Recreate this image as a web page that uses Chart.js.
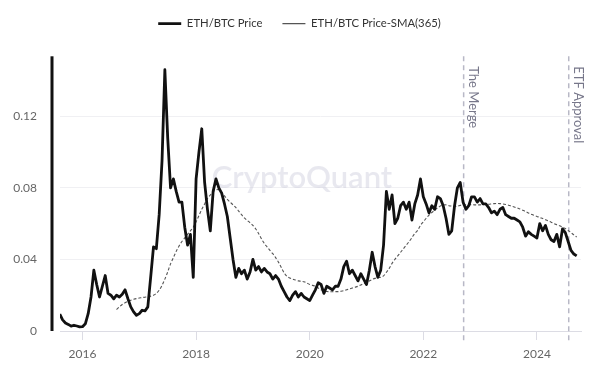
<!DOCTYPE html>
<html lang="en">

<head>
  <meta charset="UTF-8">
  <title>ETH/BTC Price</title>
  <script src="https://cdn.jsdelivr.net/npm/chart.js"></script>
  <style>
    html, body { margin: 0; padding: 0; background: #fff; }
    #wrap { width: 594px; height: 373px; position: relative; }
  </style>
</head>

<body>
  <div id="wrap"><canvas id="ethBtcChart"></canvas></div>

  <script>
    // one reading every 0.05 year (about every 18 days)
    var priceStart = 2015.60;
    var smaStart = 2016.60;
    var stepYears = 0.05;

    // ETH/BTC price
    var price = [
      0.0095, 0.0062, 0.0045, 0.0037, 0.0027, 0.0032, 0.0028, 0.0023,
      0.0024, 0.0040, 0.0097, 0.0190, 0.0340, 0.0260, 0.0190, 0.0250, 0.0310, 0.0210,
      0.0200, 0.0180, 0.0200, 0.0190, 0.0205, 0.0230, 0.0180, 0.0135, 0.0107, 0.0088,
      0.0097, 0.0116, 0.0112, 0.0135, 0.0300, 0.0470, 0.0460, 0.0650, 0.0950, 0.1460,
      0.1080, 0.0800, 0.0850, 0.0780, 0.0720, 0.0720, 0.0580, 0.0480, 0.0540, 0.0300,
      0.0850, 0.1000, 0.1130, 0.0830, 0.0680, 0.0560, 0.0780, 0.0850, 0.0800, 0.0770,
      0.0710, 0.0640, 0.0520, 0.0400, 0.0300, 0.0350, 0.0320, 0.0340, 0.0290, 0.0330,
      0.0400, 0.0340, 0.0360, 0.0330, 0.0350, 0.0330, 0.0320, 0.0290, 0.0310, 0.0290,
      0.0250, 0.0220, 0.0190, 0.0170, 0.0200, 0.0220, 0.0190, 0.0210, 0.0190, 0.0180,
      0.0170, 0.0200, 0.0230, 0.0270, 0.0260, 0.0210, 0.0250, 0.0240, 0.0230, 0.0250,
      0.0250, 0.0290, 0.0360, 0.0390, 0.0320, 0.0340, 0.0310, 0.0280, 0.0320, 0.0290,
      0.0260, 0.0340, 0.0440, 0.0360, 0.0300, 0.0340, 0.0480, 0.0780, 0.0680, 0.0760,
      0.0600, 0.0630, 0.0700, 0.0720, 0.0680, 0.0720, 0.0620, 0.0710, 0.0760, 0.0850,
      0.0750, 0.0710, 0.0660, 0.0700, 0.0680, 0.0750, 0.0740, 0.0700, 0.0630, 0.0540,
      0.0560, 0.0700, 0.0800, 0.0830, 0.0720, 0.0680, 0.0700, 0.0750, 0.0750, 0.0720,
      0.0740, 0.0710, 0.0710, 0.0690, 0.0660, 0.0670, 0.0650, 0.0680, 0.0690, 0.0650,
      0.0640, 0.0630, 0.0630, 0.0620, 0.0610, 0.0580, 0.0530, 0.0555, 0.0540, 0.0530,
      0.0520, 0.0600, 0.0560, 0.0590, 0.0540, 0.0510, 0.0500, 0.0540, 0.0470, 0.0570,
      0.0550, 0.0500, 0.0450, 0.0430, 0.0420
    ];

    // 365-day moving average
    var sma = [
      0.0120, 0.0135, 0.0148, 0.0158, 0.0166, 0.0172, 0.0177, 0.0181,
      0.0184, 0.0187, 0.0189, 0.0191, 0.0195, 0.0200, 0.0210, 0.0228, 0.0255, 0.0290,
      0.0330, 0.0375, 0.0410, 0.0445, 0.0475, 0.0500, 0.0520, 0.0540, 0.0560, 0.0580,
      0.0610, 0.0645, 0.0680, 0.0710, 0.0740, 0.0760, 0.0778, 0.0788, 0.0790, 0.0775,
      0.0755, 0.0735, 0.0720, 0.0705, 0.0690, 0.0670, 0.0650, 0.0632, 0.0618, 0.0605,
      0.0590, 0.0570, 0.0545, 0.0515, 0.0490, 0.0470, 0.0450, 0.0432, 0.0410, 0.0385,
      0.0355, 0.0325, 0.0305, 0.0296, 0.0290, 0.0285, 0.0280, 0.0278, 0.0275, 0.0268,
      0.0260, 0.0255, 0.0250, 0.0240, 0.0230, 0.0225, 0.0221, 0.0220, 0.0219, 0.0220,
      0.0220, 0.0222, 0.0225, 0.0230, 0.0235, 0.0240, 0.0245, 0.0250, 0.0257, 0.0265,
      0.0272, 0.0280, 0.0288, 0.0294, 0.0298, 0.0300, 0.0308, 0.0328, 0.0350, 0.0378,
      0.0400, 0.0420, 0.0440, 0.0460, 0.0480, 0.0500, 0.0522, 0.0545, 0.0562, 0.0590,
      0.0610, 0.0630, 0.0648, 0.0662, 0.0675, 0.0688, 0.0698, 0.0704, 0.0705, 0.0700,
      0.0698, 0.0696, 0.0698, 0.0702, 0.0705, 0.0705, 0.0706, 0.0706, 0.0705, 0.0705,
      0.0705, 0.0706, 0.0707, 0.0708, 0.0710, 0.0712, 0.0713, 0.0712, 0.0710, 0.0707,
      0.0703, 0.0698, 0.0693, 0.0688, 0.0682, 0.0675, 0.0668, 0.0660, 0.0653, 0.0646,
      0.0640, 0.0635, 0.0628, 0.0622, 0.0615, 0.0608, 0.0600, 0.0594, 0.0588, 0.0580,
      0.0573, 0.0562, 0.0550, 0.0537, 0.0525
    ];

    var yearTicks = [2016, 2018, 2020, 2022, 2024];
    var valueTicks = [0, 0.04, 0.08, 0.12];

    var eventLabels = ['The Merge', 'ETF Approval'];
    var eventYears = [2022.71, 2024.56];

    var font = { family: 'Lato', size: 12 };

    function toPoints(values, start) {
      return values.map((v, i) => ({ x: +(start + i * stepYears).toFixed(2), y: v }));
    }

    // the legend needs more room below it than Chart.js gives, and sits a bit right of centre
    var legendFix = {
      id: 'legendFix',
      beforeLayout(chart) {
        var legend = chart.legend;
        if (!legend || legend._patched) return;
        var fit = legend.fit;
        legend.fit = function () {
          fit.call(this);
          this.height += 17;
        };
        legend._patched = true;
      },
      afterLayout(chart) {
        chart.legend.left += 9;
        chart.legend.right += 9;
      }
    };

    // watermark, black y-axis bar and the two event markers
    var decorations = {
      id: 'decorations',
      beforeDatasetsDraw(chart) {
        const { ctx, chartArea: a, scales: { x } } = chart;
        ctx.save();
        ctx.font = '600 31px Lato';
        ctx.fillStyle = 'rgba(200, 200, 216, 0.42)';
        ctx.textAlign = 'center';
        ctx.fillText('CryptoQuant', 302, 178);

        ctx.fillStyle = '#111';
        ctx.fillRect(a.left - 9.5, a.top, 3, a.bottom - a.top);

        eventYears.forEach((yr, i) => {
          const px = x.getPixelForValue(yr);
          ctx.strokeStyle = '#b8b8c6';
          ctx.lineWidth = 1.5;
          ctx.setLineDash([5, 4]);
          ctx.beginPath();
          ctx.moveTo(px, a.top);
          ctx.lineTo(px, a.bottom + 10);
          ctx.stroke();
          ctx.setLineDash([]);

          ctx.save();
          ctx.translate(px + 5, a.top + 10);
          ctx.rotate(Math.PI / 2);
          ctx.font = '13px Lato';
          ctx.fillStyle = '#77778a';
          ctx.textAlign = 'left';
          ctx.textBaseline = 'alphabetic';
          ctx.fillText(eventLabels[i], 0, 0);
          ctx.restore();
        });
        ctx.restore();
      }
    };

    const ctx = document.getElementById('ethBtcChart').getContext('2d');
    new Chart(ctx, {
      type: 'line',
      data: {
        datasets: [{
          label: 'ETH/BTC Price',
          data: toPoints(price, priceStart),
          borderColor: '#111',
          borderWidth: 2.8,
          borderJoinStyle: 'round',
          pointRadius: 0,
          tension: 0,
        }, {
          label: 'ETH/BTC Price-SMA(365)',
          data: toPoints(sma, smaStart),
          borderColor: '#555',
          borderWidth: 1.1,
          borderDash: [3, 2],
          pointRadius: 0,
          tension: 0.3,
        }],
      },
      options: {
        responsive: true,
        maintainAspectRatio: false,
        animation: false,
        layout: { padding: { left: 0, right: 13, top: -2, bottom: 0 } },
        plugins: {
          legend: {
            labels: {
              usePointStyle: true,
              pointStyle: 'line',
              pointStyleWidth: 23,
              boxHeight: 12,
              padding: 20,
              color: '#333',
              font: { family: 'Lato', size: 11.3 },
            },
          },
          tooltip: { enabled: false },
        },
        scales: {
          x: {
            type: 'linear',
            min: 2015.604,
            max: 2024.776,
            afterBuildTicks: s => { s.ticks = yearTicks.map(v => ({ value: v })); },
            afterFit: s => { s.height = 42; },
            grid: { drawOnChartArea: false, color: '#dcdce4', tickLength: 9 },
            border: { color: '#dcdce4' },
            ticks: { color: '#666', font: font, padding: 7, maxRotation: 0, callback: v => String(v) },
          },
          y: {
            min: 0,
            max: 0.1535,
            afterBuildTicks: s => { s.ticks = valueTicks.map(v => ({ value: v })); },
            afterFit: s => { s.width = 60; },
            grid: { color: '#f0f0f3', drawTicks: false },
            border: { display: false },
            ticks: { color: '#666', font: font, padding: 23, callback: v => v === 0 ? '0' : v.toFixed(2) },
          },
        },
      },
      plugins: [legendFix, decorations],
    });
  </script>
</body>

</html>
